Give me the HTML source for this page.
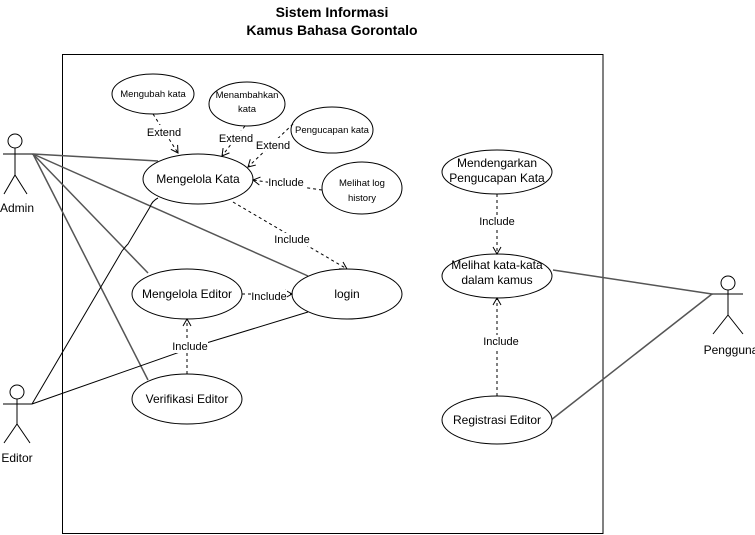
<!DOCTYPE html>
<html><head><meta charset="utf-8"><style>
html,body{margin:0;padding:0;background:#fff;}
svg{display:block;font-family:"Liberation Sans",Arial,sans-serif;}
</style></head><body>
<svg width="755" height="535" viewBox="0 0 755 535" xmlns="http://www.w3.org/2000/svg">
<defs>
<marker id="a" markerWidth="10" markerHeight="10" refX="8" refY="5" orient="auto" markerUnits="userSpaceOnUse">
<path d="M1,1 L8,5 L1,9" fill="none" stroke="#000" stroke-width="1"/>
</marker>
</defs>
<text x="332" y="17" text-anchor="middle" font-size="14" font-weight="bold">Sistem Informasi</text>
<text x="332" y="35" text-anchor="middle" font-size="14" font-weight="bold">Kamus Bahasa Gorontalo</text>
<rect x="62.5" y="54.5" width="540.5" height="479" fill="none" stroke="#000" stroke-width="1"/>

<g stroke="#555" stroke-width="1.5" fill="none">
<line x1="33" y1="154" x2="158" y2="161"/>
<line x1="33" y1="154" x2="308" y2="276"/>
<line x1="33" y1="154" x2="148" y2="273"/>
<line x1="33" y1="154" x2="148" y2="380"/>
<line x1="553" y1="270" x2="712" y2="294"/>
<line x1="551" y1="420" x2="712" y2="294"/>
</g>
<g stroke="#000" stroke-width="1" fill="none">
<path d="M32,404 L122,251 Q126,246 128,244 L150,207 Q152,201 158,198"/>
<path d="M32,404 L180,352 Q185,347 190,348 L308,312"/>
</g>

<g fill="#fff" stroke="#000" stroke-width="1">
<ellipse cx="153" cy="94" rx="41" ry="20"/>
<ellipse cx="247" cy="104" rx="38" ry="22"/>
<ellipse cx="332" cy="130" rx="41" ry="23"/>
<ellipse cx="198" cy="179" rx="55" ry="25"/>
<ellipse cx="362" cy="188" rx="40" ry="26"/>
<ellipse cx="347" cy="294" rx="55" ry="25"/>
<ellipse cx="187" cy="294" rx="55" ry="25"/>
<ellipse cx="187" cy="399" rx="55" ry="25"/>
<ellipse cx="497" cy="172" rx="55" ry="22"/>
<ellipse cx="497" cy="276" rx="55" ry="22"/>
<ellipse cx="497" cy="420" rx="55" ry="24"/>
</g>

<g stroke="#000" stroke-width="1" fill="none" stroke-dasharray="3,3" marker-end="url(#a)">
<line x1="153" y1="114" x2="178" y2="153"/>
<line x1="245" y1="126" x2="222" y2="156"/>
<line x1="293" y1="124" x2="248" y2="167"/>
<line x1="322" y1="190" x2="253" y2="180"/>
<line x1="233" y1="202" x2="347" y2="269"/>
<line x1="242" y1="294" x2="292" y2="294"/>
<line x1="187" y1="374" x2="187" y2="319"/>
<line x1="497" y1="194" x2="497" y2="254"/>
<line x1="497" y1="396" x2="497" y2="298"/>
</g>

<g fill="#fff">
<rect x="145" y="125" width="38" height="13"/>
<rect x="218" y="131" width="38" height="13"/>
<rect x="255" y="138" width="38" height="13"/>
<rect x="268" y="176" width="38" height="13"/>
<rect x="274" y="233" width="38" height="13"/>
<rect x="251" y="290" width="36" height="13"/>
<rect x="172" y="340" width="36" height="13"/>
<rect x="478" y="215" width="38" height="13"/>
<rect x="482" y="335" width="38" height="13"/>
</g>
<g font-size="11" text-anchor="middle" fill="#000">
<text x="164" y="136">Extend</text>
<text x="236" y="142">Extend</text>
<text x="273" y="149">Extend</text>
<text x="286" y="186">Include</text>
<text x="292" y="243">Include</text>
<text x="269" y="300">Include</text>
<text x="190" y="350">Include</text>
<text x="497" y="225">Include</text>
<text x="501" y="345">Include</text>
</g>

<g font-size="9.5" text-anchor="middle">
<text x="153" y="97">Mengubah kata</text>
<text x="247" y="98">Menambahkan</text>
<text x="247" y="112">kata</text>
<text x="332" y="133">Pengucapan kata</text>
<text x="362" y="186">Melihat log</text>
<text x="362" y="201">history</text>
</g>
<g font-size="12" text-anchor="middle">
<text x="198" y="183">Mengelola Kata</text>
<text x="347" y="298">login</text>
<text x="187" y="298">Mengelola Editor</text>
<text x="187" y="403">Verifikasi Editor</text>
<text x="497" y="167">Mendengarkan</text>
<text x="497" y="182">Pengucapan Kata</text>
<text x="497" y="269">Melihat kata-kata</text>
<text x="497" y="284">dalam kamus</text>
<text x="497" y="424">Registrasi Editor</text>
</g>

<g stroke="#000" stroke-width="1" fill="#fff">
<circle cx="15" cy="141" r="7"/>
<line x1="15" y1="148" x2="15" y2="175"/>
<line x1="3" y1="154" x2="33" y2="154"/>
<polyline points="4,194 15,175 27,194" fill="none"/>
<circle cx="17" cy="392" r="7"/>
<line x1="17" y1="399" x2="17" y2="424"/>
<line x1="3" y1="404" x2="32" y2="404"/>
<polyline points="4,443 17,424 30,443" fill="none"/>
<circle cx="728" cy="283" r="7"/>
<line x1="728" y1="290" x2="728" y2="315"/>
<line x1="712" y1="294" x2="743" y2="294"/>
<polyline points="713,334 728,315 743,334" fill="none"/>
</g>
<g font-size="12" text-anchor="middle">
<text x="17" y="212">Admin</text>
<text x="17" y="462">Editor</text>
<text x="731" y="354">Pengguna</text>
</g>
</svg>
</body></html>
